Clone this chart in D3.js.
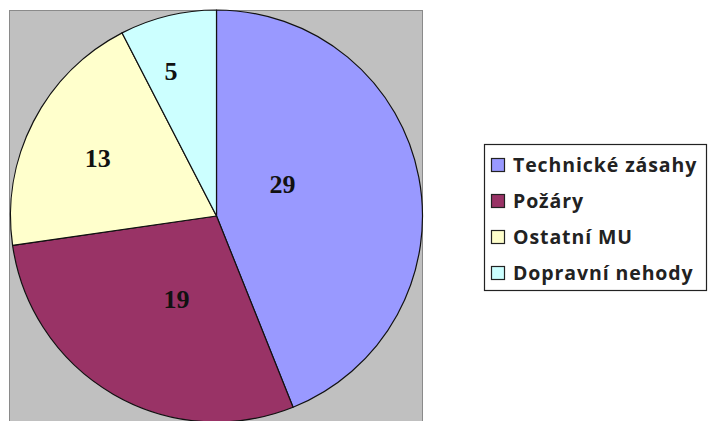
<!DOCTYPE html>
<html>
<head>
<meta charset="utf-8">
<script src="https://d3js.org/d3.v7.min.js"></script>
<style>
  body { margin: 0; background: #ffffff; }
</style>
</head>
<body>
<div id="my_dataviz"></div>
<script>
// data
var categories = ["Technické zásahy", "Požáry", "Ostatní MU", "Dopravní nehody"]
var values = [29, 19, 13, 5]
var colors = ["#9999ff", "#993366", "#ffffcc", "#ccffff"]

var width = 708, height = 421

// plot area (grey square with the pie in it)
var plot = { x: 10, y: 11, w: 413, h: 411 }
var cx = plot.x + plot.w / 2
var cy = plot.y + 205
var radius = 206

var svg = d3.select("#my_dataviz").append("svg")
  .attr("width", width)
  .attr("height", height)

svg.append("rect")
  .attr("x", plot.x - 0.5)
  .attr("y", plot.y - 0.5)
  .attr("width", plot.w)
  .attr("height", plot.h)
  .attr("fill", "#c0c0c0")
  .attr("stroke", "#8a8a8a")
  .attr("stroke-width", 1)

var total = d3.sum(values)

var pie = d3.pie().sort(null).value(function (d) { return d })
var arcs = pie(values)

var arc = d3.arc().innerRadius(0).outerRadius(radius)

var g = svg.append("g").attr("transform", "translate(" + cx + "," + cy + ")")

g.selectAll("path")
  .data(arcs)
  .enter()
  .append("path")
  .attr("d", arc)
  .attr("fill", function (d, i) { return colors[i] })
  .attr("stroke", "#111")
  .attr("stroke-width", 1.2)
  .attr("stroke-linejoin", "round")

// labels: big slices get them nearer the centre, small ones further out (Excel best fit)
g.selectAll(".myLabels")
  .data(arcs)
  .enter()
  .append("text")
  .attr("class", "myLabels")
  .attr("transform", function (d) {
    var f = d.value / total
    var r = f > 0.25 ? radius * (0.62 - 0.6 * f) : radius * (0.8 - 0.8 * f)
    var a = (d.startAngle + d.endAngle) / 2
    var shift = f > 0.35 ? -0.26 : (f > 0.25 ? -0.075 : (f > 0.15 ? -0.02 : -0.065))
    a = a + shift
    return "translate(" + (r * Math.sin(a)) + "," + (-r * Math.cos(a)) + ")"
  })
  .attr("text-anchor", "middle")
  .attr("dy", "0.35em")
  .style("font-family", "'Liberation Serif', 'Times New Roman', serif")
  .style("font-weight", "bold")
  .style("font-size", "26px")
  .attr("fill", "#111")
  .text(function (d) { return d.value })

// legend
var legend = svg.append("g").attr("transform", "translate(484,144)")

legend.append("rect")
  .attr("x", 0.5)
  .attr("y", 0.5)
  .attr("width", 222)
  .attr("height", 146)
  .attr("fill", "#fff")
  .attr("stroke", "#222")
  .attr("stroke-width", 1.2)

var rows = legend.selectAll(".row")
  .data(categories)
  .enter()
  .append("g")
  .attr("class", "row")
  .attr("transform", function (d, i) { return "translate(0," + (21 + i * 36) + ")" })

rows.append("rect")
  .attr("x", 7.5)
  .attr("y", -6.5)
  .attr("width", 13)
  .attr("height", 13)
  .attr("fill", function (d, i) { return colors[i] })
  .attr("stroke", "#222")
  .attr("stroke-width", 1.2)

rows.append("text")
  .attr("x", 29)
  .attr("y", 0)
  .attr("dy", "0.36em")
  .style("font-family", "'Open Sans', 'Lato', sans-serif")
  .style("font-weight", "bold")
  .style("font-size", "19.5px")
  .style("letter-spacing", "0.9px")
  .attr("fill", "#222")
  .text(function (d) { return d })
</script>
</body>
</html>
